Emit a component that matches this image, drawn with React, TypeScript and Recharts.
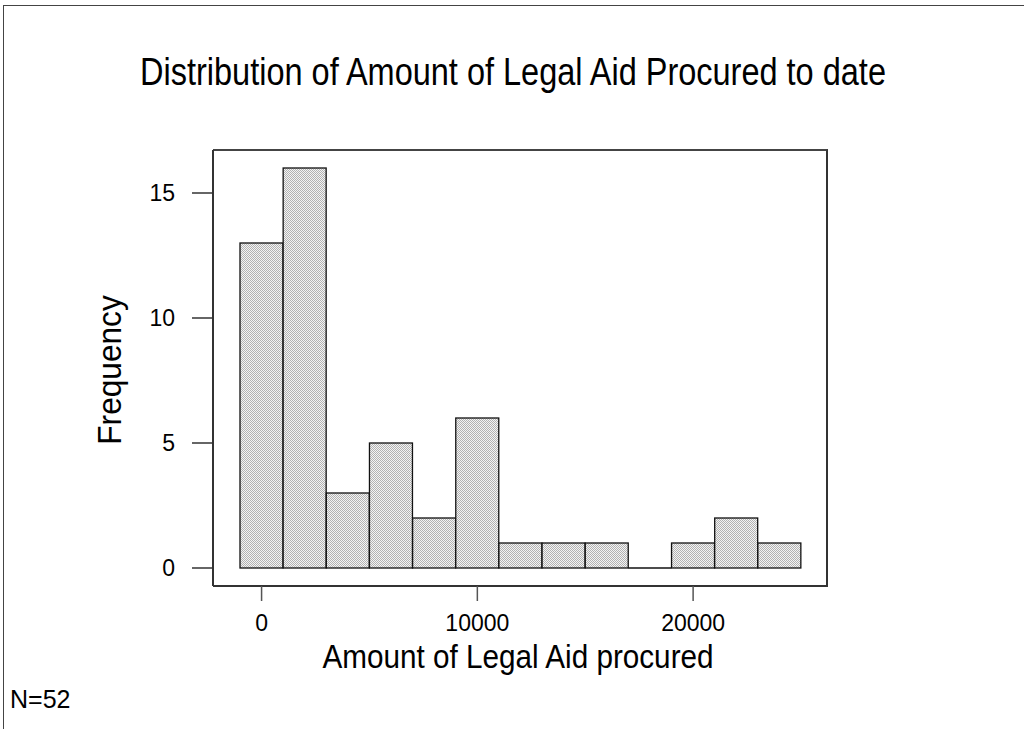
import { BarChart, Bar, XAxis, YAxis } from "recharts";

// histogram bins (bin centre, width 2000)
const binCentres = [0, 2000, 4000, 6000, 8000, 10000, 12000, 14000, 16000, 18000, 20000, 22000, 24000];
const frequencies = [13, 16, 3, 5, 2, 6, 1, 1, 1, 0, 1, 2, 1];
const yTicks = [0, 5, 10, 15];
const yDomain = [-0.72, 16.72];

const rows = binCentres.map((bin, i) => ({ bin, count: frequencies[i] }));

const font = "'Liberation Sans', Arial, sans-serif";

// plot area, matches the chart margins below
const plot = { left: 213, top: 150, right: 828, bottom: 586 };

const HistBar = (props: any) => {
  const { x, y, width, height } = props;
  if (!height) {
    return <line x1={x} x2={x + width} y1={y} y2={y} stroke="#111" strokeWidth={1.3} />;
  }
  return (
    <rect
      x={x}
      y={y}
      width={width}
      height={height}
      fill="url(#checker)"
      stroke="#111"
      strokeWidth={1.3}
    />
  );
};

export default function App() {
  return (
    <div
      style={{
        position: "absolute",
        left: 0,
        top: 0,
        width: 1024,
        height: 729,
        background: "#fff",
        fontFamily: font,
        overflow: "hidden",
      }}
    >
      {/* page frame */}
      <div
        style={{
          position: "absolute",
          left: 3,
          top: 5,
          right: -2,
          bottom: -2,
          borderTop: "1px solid #444",
          borderLeft: "1px solid #444",
        }}
      />

      {/* top and right sides of the plot box */}
      <div
        style={{
          position: "absolute",
          left: plot.left,
          top: plot.top - 1,
          width: plot.right - plot.left,
          height: plot.bottom - plot.top,
          borderTop: "2px solid #444",
          borderRight: "2px solid #333",
          boxSizing: "border-box",
        }}
      />

      <BarChart
        width={1024}
        height={729}
        data={rows}
        margin={{ top: plot.top, right: 1024 - plot.right, bottom: 729 - plot.bottom - 30, left: plot.left - 60 }}
        barCategoryGap={0}
        style={{ position: "absolute", left: 0, top: 0 }}
      >
        <defs>
          <pattern id="checker" width="2" height="2" patternUnits="userSpaceOnUse">
            <rect width="2" height="2" fill="#f4f4f4" />
            <rect width="1" height="1" fill="#b2b2b2" />
            <rect x="1" y="1" width="1" height="1" fill="#b2b2b2" />
          </pattern>
        </defs>
        <XAxis
          dataKey="bin"
          type="category"
          interval={4}
          padding={{ left: 27, right: 27 }}
          height={30}
          tickSize={15}
          tickMargin={14}
          axisLine={{ stroke: "#333", strokeWidth: 2 }}
          tickLine={{ stroke: "#555", strokeWidth: 1.5 }}
          tick={{ fill: "#000", fontSize: 23, fontFamily: font }}
        />
        <YAxis
          type="number"
          domain={yDomain}
          ticks={yTicks}
          width={60}
          tickSize={21}
          tickMargin={17}
          axisLine={{ stroke: "#333", strokeWidth: 2 }}
          tickLine={{ stroke: "#333", strokeWidth: 1.5 }}
          tick={{ fill: "#000", fontSize: 23, fontFamily: font }}
        />
        <Bar dataKey="count" shape={HistBar} isAnimationActive={false} />
      </BarChart>

      {/* title */}
      <div
        style={{
          position: "absolute",
          left: 0,
          width: 1024,
          top: 53,
          textAlign: "center",
          fontSize: 38,
          lineHeight: "38px",
          whiteSpace: "nowrap",
          color: "#000",
          transform: "translateX(1px) scaleX(0.855)",
        }}
      >
        Distribution of Amount of Legal Aid Procured to date
      </div>

      {/* x label */}
      <div
        style={{
          position: "absolute",
          left: 218,
          width: 600,
          top: 639,
          textAlign: "center",
          fontSize: 34,
          lineHeight: "34px",
          whiteSpace: "nowrap",
          color: "#000",
          transform: "scaleX(0.873)",
        }}
      >
        Amount of Legal Aid procured
      </div>

      {/* y label */}
      <div
        style={{
          position: "absolute",
          left: 109,
          top: 370,
          fontSize: 34,
          lineHeight: "34px",
          whiteSpace: "nowrap",
          color: "#000",
          transform: "translate(-50%, -50%) rotate(-90deg) scaleX(0.93)",
        }}
      >
        Frequency
      </div>

      {/* sample size */}
      <div
        style={{
          position: "absolute",
          left: 10,
          top: 687,
          fontSize: 25,
          lineHeight: "25px",
          color: "#000",
        }}
      >
        N=52
      </div>
    </div>
  );
}
